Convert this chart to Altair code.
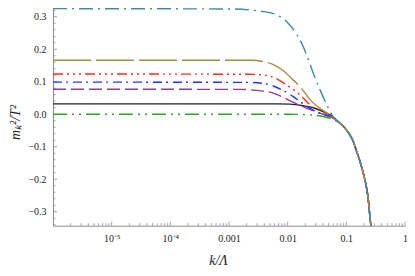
import json
import altair as alt
import pandas as pd

# ---- data (k/Λ, m_k^2/T^2) ----
tail_k = [0.0782, 0.0951, 0.1156, 0.1315, 0.1503, 0.1714, 0.195, 0.2168, 0.2371, 0.2494, 0.2618]
tail_m = [-0.028, -0.043, -0.064, -0.084, -0.115, -0.146, -0.182, -0.218, -0.264, -0.305, -0.343]

teal_k = [1e-6, 0.00104, 0.00385, 0.0065, 0.00964, 0.01337, 0.01738, 0.02113, 0.02735, 0.03565, 0.04634, 0.06]
teal_m = [0.325, 0.324, 0.316, 0.306, 0.285, 0.254, 0.218, 0.182, 0.126, 0.075, 0.029, -0.009]

gold_k = [1e-6, 0.00228, 0.00385, 0.0057, 0.00843, 0.0125, 0.01626, 0.01977, 0.02404, 0.02924, 0.03565, 0.04335, 0.06]
gold_m = [0.166, 0.166, 0.162, 0.153, 0.134, 0.105, 0.085, 0.065, 0.045, 0.030, 0.018, 0.008, -0.012]

red_k = [1e-6, 0.00228, 0.00385, 0.00535, 0.00964, 0.01626, 0.01849, 0.02404, 0.03334, 0.04932, 0.06]
red_m = [0.124, 0.123, 0.121, 0.116, 0.090, 0.059, 0.049, 0.029, 0.013, -0.002, -0.012]

blue_k = [1e-6, 0.00228, 0.00385, 0.0057, 0.00902, 0.0125, 0.01626, 0.02404, 0.03565, 0.06]
blue_m = [0.099, 0.098, 0.095, 0.087, 0.070, 0.054, 0.039, 0.018, 0.003, -0.012]

purple_k = [1e-6, 0.0015, 0.00385, 0.005, 0.0080, 0.0118, 0.01849, 0.02735, 0.04055, 0.06]
purple_m = [0.077, 0.0765, 0.071, 0.068, 0.054, 0.039, 0.023, 0.011, 0.0, -0.012]

black_k = [1e-6, 0.0065, 0.01096, 0.01849, 0.02735, 0.04055, 0.06]
black_m = [0.032, 0.032, 0.031, 0.026, 0.020, 0.008, -0.009]

green_k = [1e-6, 0.01096, 0.02404, 0.04055, 0.05636]
green_m = [0.0, 0.0, -0.002, -0.007, -0.015]

x_label_values = [1e-5, 1e-4, 1e-3, 1e-2, 1e-1, 1]
x_label_texts = ["10\u207b\u2075", "10\u207b\u2074", "0.001", "0.01", "0.1", "1"]
y_label_values = [-0.3, -0.2, -0.1, 0.0, 0.1, 0.2, 0.3]

x_major_ticks = [1e-5, 1e-4, 1e-3, 1e-2, 1e-1, 1]
x_minor_ticks = [m * 10.0 ** d for d in range(-6, 0) for m in range(2, 10)]
y_major_ticks = [-0.3, -0.2, -0.1, 0.0, 0.1, 0.2, 0.3]
y_minor_ticks = [round(-0.34 + 0.02 * i, 2) for i in range(34)]
y_minor_ticks = [v for v in y_minor_ticks if round(v * 10, 6) != round(v * 10)]

XMIN, XMAX = 1e-6, 1.0
YMIN, YMAX = -0.343, 0.327

series = [
    ("green", green_k, green_m, "#27a827", [14, 5, 2, 5, 2, 5]),
    ("black", black_k, black_m, "#222222", None),
    ("purple", purple_k, purple_m, "#8e3a9f", [13, 5]),
    ("blue", blue_k, blue_m, "#2233ff", [9, 4, 2, 5]),
    ("red", red_k, red_m, "#ff2a2a", [10, 4, 2, 4, 2, 4, 2, 4]),
    ("gold", gold_k, gold_m, "#a88c45", [38, 5]),
    ("teal", teal_k, teal_m, "#3c8ca6", [14, 5, 2, 5]),
]

AX = "#8c8c8c"
FONT = "Liberation Serif"
xscale = alt.Scale(type="log", domain=[XMIN, XMAX], nice=False)
yscale = alt.Scale(domain=[YMIN, YMAX], nice=False, zero=False)

label_expr = json.dumps(x_label_texts) + "[round(log(datum.value)/LN10)+5]"
xaxis = alt.Axis(values=x_label_values, labelExpr=label_expr, ticks=False, grid=False,
                 domainColor=AX, labelFont=FONT, labelFontSize=10, labelColor="#222",
                 labelPadding=8, labelFlush=False, labelOverlap=False,
                 title="k/\u039b", titleFont=FONT, titleFontStyle="italic", titleFontSize=14,
                 titleFontWeight="normal", titleColor="#222",
                 titleX=165, titleY=39, titleAlign="center", titleBaseline="alphabetic")
yaxis = alt.Axis(values=y_label_values, format=".1f", ticks=False, grid=False,
                 domainColor=AX, labelFont=FONT, labelFontSize=10, labelColor="#222",
                 labelPadding=7,
                 title="m\u2096\u00b2/T\u00b2", titleFont=FONT, titleFontStyle="italic", titleFontSize=14,
                 titleFontWeight="normal", titleColor="#222", titleAngle=270,
                 titleX=-38, titleY=114, titleAlign="center", titleBaseline="middle")

def X(field):
    return alt.X(field, type="quantitative", scale=xscale, axis=xaxis)

def Y(field):
    return alt.Y(field, type="quantitative", scale=yscale, axis=yaxis)

layers = []

def xticks(vals, length):
    df = pd.DataFrame({"v": vals})
    return alt.Chart(df).mark_rule(color=AX, strokeWidth=0.8, y2Offset=-length).encode(
        x=X("v"), y=alt.YDatum(YMIN, scale=yscale, axis=yaxis), y2=alt.Y2Datum(YMIN))

def yticks(vals, length):
    df = pd.DataFrame({"v": vals})
    return alt.Chart(df).mark_rule(color=AX, strokeWidth=0.8, x2Offset=length).encode(
        y=Y("v"), x=alt.XDatum(XMIN, scale=xscale, axis=xaxis), x2=alt.X2Datum(XMIN))

layers += [xticks(x_major_ticks, 4), xticks(x_minor_ticks, 2.5),
           yticks(y_major_ticks, 4), yticks(y_minor_ticks, 2.5)]

for name, ks, ms, color, dash in series:
    kk = list(ks) + tail_k
    mm = list(ms) + tail_m
    df = pd.DataFrame({"k": kk, "m": mm})
    kw = dict(color=color, strokeWidth=1.4, interpolate="monotone")
    if dash:
        kw["strokeDash"] = dash
    layers.append(alt.Chart(df).mark_line(**kw).encode(x=X("k"), y=Y("m")))

chart = alt.layer(*layers).properties(
    width=352, height=217.7,
    padding={"left": 45, "top": 0, "right": 2, "bottom": 42},
    autosize=alt.AutoSizeParams(type="none"),
    background="white",
).configure_view(stroke=None)

chart.save("out.html", embed_options={"renderer": "svg", "actions": False})
